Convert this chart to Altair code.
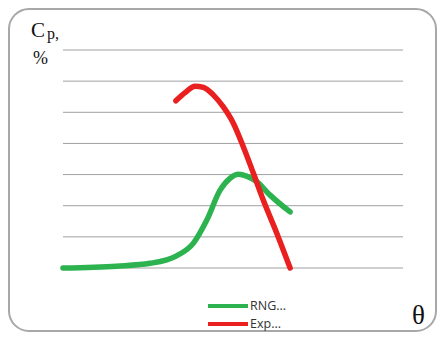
import altair as alt
import pandas as pd

rng_x = [0.0, 1.58, 2.56, 3.34, 3.83, 4.23, 4.62, 4.91, 5.16, 5.40, 5.70, 6.09, 6.68]
rng_y = [0.0, 0.06, 0.15, 0.39, 0.79, 1.54, 2.50, 2.88, 3.01, 2.95, 2.77, 2.34, 1.80]
exp_x = [3.32, 3.59, 3.88, 4.13, 4.42, 4.71, 5.01, 5.30, 5.60, 5.89, 6.29, 6.68]
exp_y = [5.37, 5.63, 5.84, 5.80, 5.56, 5.18, 4.65, 3.90, 3.04, 2.18, 1.11, 0.0]
series_names = ["RNG...", "Exp..."]
series_colors = ["#2cb350", "#e9201f"]
grid_values = [0, 1, 2, 3, 4, 5, 6, 7]

rows = []
for i, (x, y) in enumerate(zip(rng_x, rng_y)):
    rows.append({"series": series_names[0], "x": x, "y": y, "order": i})
for i, (x, y) in enumerate(zip(exp_x, exp_y)):
    rows.append({"series": series_names[1], "x": x, "y": y, "order": i})
df = pd.DataFrame(rows)

one = pd.DataFrame({"a": [0]})

border = alt.Chart(one).mark_rect(
    fill=None, stroke="#a8a8a8", strokeWidth=2, cornerRadius=20
).encode(x=alt.value(-54), x2=alt.value(373), y=alt.value(-41), y2=alt.value(281))

grid = alt.Chart(pd.DataFrame({"g": grid_values})).mark_rule(
    color="#a0a0a0", strokeWidth=1
).encode(
    y=alt.Y("g:Q", scale=alt.Scale(domain=[0, 7]), axis=None),
)

lines = alt.Chart(df).mark_line(strokeWidth=5.5, interpolate="monotone", strokeCap="round").encode(
    x=alt.X("x:Q", scale=alt.Scale(domain=[0, 10]), axis=None),
    y=alt.Y("y:Q", scale=alt.Scale(domain=[0, 7]), axis=None),
    color=alt.Color(
        "series:N",
        scale=alt.Scale(domain=series_names, range=series_colors),
        legend=alt.Legend(
            title=None,
            orient="none",
            legendX=144,
            legendY=249,
            padding=0,
            symbolType="M-4,0H4",
            symbolSize=100,
            symbolStrokeWidth=4,
            symbolOffset=14,
            labelFontSize=12.5,
            labelFont="Open Sans",
            labelColor="#333333",
            labelOffset=15,
            rowPadding=2,
        ),
    ),
    order="order:Q",
)

def txt(s, x, y, size):
    return alt.Chart(one).mark_text(
        text=s, font="Liberation Serif", fontSize=size, align="left", baseline="alphabetic", color="#111111"
    ).encode(x=alt.value(x), y=alt.value(y))

chart = alt.layer(
    border,
    grid,
    lines,
    txt("C", -32, -13, 21),
    txt("p,", -16, -11, 16),
    txt("%", -30, 14, 18),
    txt("θ", 349, 274, 27),
).properties(
    width=340,
    height=218,
    padding={"left": 55, "top": 42, "right": 34, "bottom": 64},
    autosize=alt.AutoSizeParams(type="none"),
).configure_view(stroke=None)

chart.save("out.html", embed_options={"renderer": "svg", "actions": False})
